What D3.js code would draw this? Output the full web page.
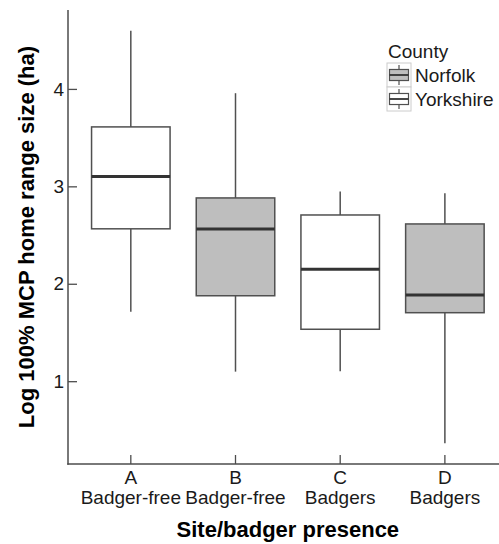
<!DOCTYPE html>
<html>
<head>
<meta charset="utf-8">
<script src="https://cdn.jsdelivr.net/npm/d3@7"></script>
<style>
  html, body { margin: 0; padding: 0; background: #fff; }
  svg { display: block; font-family: "Liberation Sans", Arial, Helvetica, sans-serif; }
</style>
</head>
<body>
<svg id="chart" width="499" height="544"></svg>
<script>
// ---- data ----
const sites = ["A", "B", "C", "D"];
const siteLabels = ["Badger-free", "Badger-free", "Badgers", "Badgers"];
const county = ["Yorkshire", "Norfolk", "Yorkshire", "Norfolk"];
const whiskerLow = [1.713, 1.098, 1.102, 0.362];
const q1 = [2.564, 1.877, 1.533, 1.703];
const median = [3.102, 2.563, 2.149, 1.885];
const q3 = [3.610, 2.881, 2.706, 2.614];
const whiskerHigh = [4.598, 3.956, 2.946, 2.929];
const yTicks = [1, 2, 3, 4];
const legendCounties = ["Norfolk", "Yorkshire"];
const countyFill = { Norfolk: "#bebebe", Yorkshire: "#ffffff" };

const svg = d3.select("#chart");
const pLeft = 68, pRight = 507.7, pTop = 10, pBottom = 464;
const fs = 19;

const x = d3.scaleBand().domain(sites).range([pLeft, pRight]).paddingInner(0).paddingOuter(0.1);
const y = d3.scaleLinear().domain([0.150, 4.810]).range([pBottom, pTop]);

const boxes = sites.map((s, i) => ({
  site: s, county: county[i], lo: whiskerLow[i], q1: q1[i], med: median[i], q3: q3[i], hi: whiskerHigh[i]
}));

const stroke = "#505050";
const bw = x.bandwidth() * 0.75;
const cx = d => x(d.site) + x.bandwidth() / 2;

const g = svg.append("g");
const bx = g.selectAll("g.box").data(boxes).join("g").attr("class", "box");
bx.append("line")
  .attr("x1", cx).attr("x2", cx)
  .attr("y1", d => y(d.hi)).attr("y2", d => y(d.q3))
  .attr("stroke", stroke).attr("stroke-width", 1.5);
bx.append("line")
  .attr("x1", cx).attr("x2", cx)
  .attr("y1", d => y(d.q1)).attr("y2", d => y(d.lo))
  .attr("stroke", stroke).attr("stroke-width", 1.5);
bx.append("rect")
  .attr("x", d => cx(d) - bw / 2)
  .attr("width", bw)
  .attr("y", d => y(d.q3))
  .attr("height", d => y(d.q1) - y(d.q3))
  .attr("fill", d => countyFill[d.county])
  .attr("stroke", stroke).attr("stroke-width", 1.5);
bx.append("line")
  .attr("x1", d => cx(d) - bw / 2)
  .attr("x2", d => cx(d) + bw / 2)
  .attr("y1", d => y(d.med)).attr("y2", d => y(d.med))
  .attr("stroke", "#333").attr("stroke-width", 3);

// ---- axes ----
const axisColor = "#4d4d4d";
const yAxis = d3.axisLeft(y).tickValues(yTicks).tickSizeInner(-9).tickSizeOuter(0).tickPadding(4).tickFormat(d3.format("d"));
const yg = svg.append("g").attr("transform", `translate(${pLeft},0)`).call(yAxis);
yg.select(".domain").remove();
yg.append("line").attr("x1", 0).attr("x2", 0).attr("y1", pTop).attr("y2", pBottom + 0.75)
  .attr("stroke", axisColor).attr("stroke-width", 1.5);
yg.selectAll(".tick line").attr("stroke", axisColor).attr("stroke-width", 1.3);
yg.selectAll(".tick text").attr("font-size", fs).attr("fill", "#1a1a1a")
  .attr("font-family", "Liberation Sans, Arial, sans-serif");

const xAxis = d3.axisBottom(x).tickSizeInner(-9).tickSizeOuter(0).tickFormat(() => "");
const xg = svg.append("g").attr("transform", `translate(0,${pBottom})`).call(xAxis);
xg.select(".domain").remove();
xg.append("line").attr("x1", pLeft - 0.75).attr("x2", pRight).attr("y1", 0).attr("y2", 0)
  .attr("stroke", axisColor).attr("stroke-width", 1.5);
xg.selectAll(".tick line").attr("stroke", axisColor).attr("stroke-width", 1.3);
xg.selectAll(".tick").each(function(d, i) {
  const t = d3.select(this).select("text");
  t.text(null).attr("y", 0).attr("dy", null)
    .attr("font-size", fs).attr("fill", "#1a1a1a").attr("text-anchor", "middle")
    .attr("font-family", "Liberation Sans, Arial, sans-serif");
  t.append("tspan").attr("x", 0).attr("y", 19.5).text(sites[i]);
  t.append("tspan").attr("x", 0).attr("y", 40).text(siteLabels[i]);
});

// axis titles
svg.append("text")
  .attr("x", (pLeft + pRight) / 2).attr("y", 537)
  .attr("text-anchor", "middle").attr("font-weight", "bold").attr("font-size", 22).attr("fill", "#000")
  .text("Site/badger presence");
svg.append("text")
  .attr("transform", `translate(34,${(pTop + pBottom) / 2}) rotate(-90)`)
  .attr("text-anchor", "middle").attr("font-weight", "bold").attr("font-size", 22).attr("fill", "#000")
  .text("Log 100% MCP home range size (ha)");

// ---- legend ----
const lg = svg.append("g").attr("transform", "translate(387,63)");
lg.append("text").attr("x", 1).attr("y", -5).attr("font-size", fs).attr("fill", "#1a1a1a").text("County");
const ks = 24;
const items = lg.selectAll("g.item").data(legendCounties).join("g").attr("class", "item")
  .attr("transform", (d, i) => `translate(0,${i * ks})`);
items.append("rect").attr("x", 0).attr("y", 0).attr("width", ks).attr("height", ks)
  .attr("fill", "#fff").attr("stroke", "#cccccc").attr("stroke-width", 1);
items.append("line").attr("x1", ks / 2).attr("x2", ks / 2).attr("y1", 2).attr("y2", ks - 2)
  .attr("stroke", stroke).attr("stroke-width", 1.2);
items.append("rect").attr("x", 2.5).attr("y", ks * 0.27).attr("width", ks - 5).attr("height", ks * 0.46)
  .attr("fill", d => countyFill[d]).attr("stroke", stroke).attr("stroke-width", 1.2);
items.append("line").attr("x1", 2.5).attr("x2", ks - 2.5).attr("y1", ks / 2).attr("y2", ks / 2)
  .attr("stroke", "#333").attr("stroke-width", 1.8);
items.append("text").attr("x", ks + 4).attr("y", ks / 2 + 7).attr("font-size", fs).attr("fill", "#1a1a1a")
  .text(d => d);
</script>
</body>
</html>
